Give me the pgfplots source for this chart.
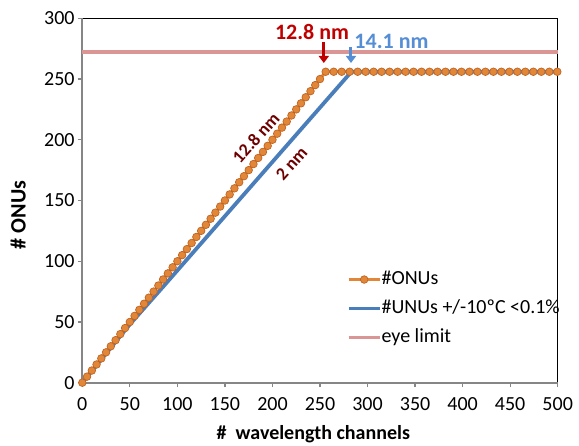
\documentclass[border=0pt]{standalone}
\usepackage{pgfplots}
\pgfplotsset{compat=1.18}
\usepackage{fontspec}
\setmainfont{Carlito}
\usetikzlibrary{arrows.meta}
\definecolor{onuorange}{RGB}{226,134,56}
\definecolor{onuedge}{RGB}{190,100,35}
\definecolor{unublue}{RGB}{74,126,187}
\definecolor{eyepink}{RGB}{217,150,148}
\definecolor{txtred}{RGB}{192,0,0}
\definecolor{txtblue}{RGB}{85,142,213}
\definecolor{annred}{RGB}{110,0,0}
\definecolor{axgray}{RGB}{134,134,134}
\begin{document}
\begin{tikzpicture}
\useasboundingbox (-82.3pt,-63.3pt) rectangle (496.7pt,382.7pt);
\begin{axis}[
  scale only axis, width=475.4pt, height=364.4pt,
  xmin=0, xmax=500, ymin=0, ymax=300,
  xtick={0,50,...,500}, ytick={0,50,...,300},
  clip=false,
  axis line style={black, line width=1.3pt},
  tick pos=left, tick align=outside, major tick length=4.5pt,
  tick style={axgray, line width=1.3pt},
  /pgf/number format/assume math mode=true,
  ticklabel style={font=\fontsize{20}{24}\selectfont},
  xticklabel style={anchor=base, yshift=-23.5pt},
  yticklabel style={anchor=east, inner sep=0pt, xshift=-3pt},
  xlabel={\textbf{\#~ wavelength channels}},
  ylabel={\textbf{\# ONUs}},
  x label style={at={(axis description cs:0.486,0)}, anchor=base, yshift=-57pt, font=\fontsize{20}{24}\selectfont},
  y label style={at={(axis description cs:0,0.46)}, anchor=center, rotate=0, yshift=64pt, font=\fontsize{22}{26}\selectfont},
  legend style={draw=none, fill=none, at={(axis cs:278,92.5)}, anchor=north west,
    font=\fontsize{20}{24}\selectfont, row sep=11pt, inner sep=0pt,
    nodes={inner sep=0pt, text height=14pt, text depth=4pt, anchor=west}},
  legend cell align=left,
  legend image code/.code={\draw[mark repeat=2,mark phase=2,#1] plot coordinates {(0pt,0pt)(15.5pt,0pt)(31pt,0pt)};},
]
\draw[axgray, line width=2pt] (axis cs:0,300) -- (axis cs:0,0) -- (axis cs:500,0);
\addplot[color=onuorange, line width=3pt, mark=*, mark size=3.8pt,
  mark options={fill=onuorange, draw=onuedge, line width=0.7pt}] coordinates {
(0,0)(5,5)(10,10)(15,15)(20,20)(25,25)(30,30)(35,35)(40,40)(45,45)(50,50)(55,55)(60,60)(65,65)(70,70)(75,75)(80,80)(85,85)(90,90)(95,95)(100,100)(105,105)(110,110)(115,115)(120,120)(125,125)(130,130)(135,135)(140,140)(145,145)(150,150)(155,155)(160,160)(165,165)(170,170)(175,175)(180,180)(185,185)(190,190)(195,195)(200,200)(205,205)(210,210)(215,215)(220,220)(225,225)(230,230)(235,235)(240,240)(245,245)(250,250)(256,256)
(264.4,256)(272.8,256)(281.2,256)(289.6,256)(298,256)(306.4,256)(314.8,256)(323.2,256)(331.6,256)(340,256)(348.4,256)(356.8,256)(365.2,256)(373.6,256)(382,256)(390.4,256)(398.8,256)(407.2,256)(415.6,256)(424,256)(432.4,256)(440.8,256)(449.2,256)(457.6,256)(466,256)(474.4,256)(482.8,256)(491.2,256)(499.6,256)
};
\addlegendentry{\#ONUs}
\addplot[color=unublue, line width=3.8pt, mark=none] coordinates {
(0,0)(50,48)(85,79)(283,256)(500,256)
};
\addlegendentry{\#UNUs +/-10ºC <0.1\%}
\addplot[color=eyepink, line width=3.8pt, mark=none] coordinates {
(0,272)(500,272)
};
\addlegendentry{eye limit}
\node[anchor=base, text=txtred, font=\fontsize{22}{26}\selectfont\bfseries] at (axis cs:241.6,282.5) {12.8 nm};
\node[anchor=base, text=txtblue, font=\fontsize{22}{26}\selectfont\bfseries] at (axis cs:325.2,275.5) {14.1 nm};
\draw[txtred, line width=3pt, -{Triangle[width=10pt,length=7pt]}] (axis cs:254,280.5) -- (axis cs:254,263.2);
\draw[txtblue, line width=3pt, -{Triangle[width=10pt,length=7pt]}] (axis cs:282.6,276.4) -- (axis cs:282.6,263.2);
\node[rotate=48, text=annred, font=\fontsize{18}{22}\selectfont\bfseries, inner sep=0pt] at (axis cs:182.5,201.5) {12.8 nm};
\node[rotate=48, text=annred, font=\fontsize{18}{22}\selectfont\bfseries, inner sep=0pt] at (axis cs:220,180.5) {2 nm};
\end{axis}
\end{tikzpicture}
\end{document}
